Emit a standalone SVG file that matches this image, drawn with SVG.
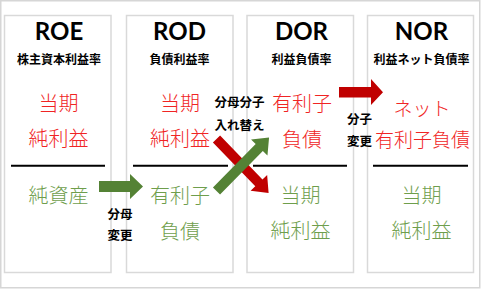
<svg xmlns="http://www.w3.org/2000/svg" width="481" height="289" viewBox="0 0 481 289">
<style>
.frame{fill:#fff;stroke:#d6d6d6;stroke-width:1.5}
.panel{fill:#fff;stroke:#d9d9d9;stroke-width:1.5}
.bar{stroke:#000;stroke-width:2}
.title{font-family:Lato,"Liberation Sans","Noto Sans CJK JP",sans-serif;font-weight:700;font-size:24px;text-anchor:middle;fill:#000}
.sub{font-family:"Noto Sans CJK JP",sans-serif;font-weight:700;font-size:12px;text-anchor:middle;fill:#000}
.num{font-family:"Noto Sans CJK JP",sans-serif;font-weight:300;font-size:20px;text-anchor:middle;fill:#f02424}
.den{font-family:"Noto Sans CJK JP",sans-serif;font-weight:300;font-size:20px;text-anchor:middle;fill:#6e9e4c}
.sm{font-size:19px}
.note{font-family:"Noto Sans CJK JP",sans-serif;font-weight:700;font-size:12.5px;text-anchor:middle;fill:#000}
.ag{fill:#548235}
.ar{fill:#c00000}
</style>
<defs>
<polygon id="diag" points="0,-5 61,-5 61,-11.5 75,0 61,11.5 61,5 0,5"/>
</defs>
<rect class="frame" x="0.75" y="0.75" width="479" height="287"/>
<g id="roe">
<rect class="panel" x="4.5" y="15.5" width="106.5" height="257"/>
<text class="title" x="59" y="40">ROE</text>
<text class="sub" x="59" y="63.5">株主資本利益率</text>
<text class="num" x="58.5" y="111">当期</text>
<text class="num" x="58.5" y="146">純利益</text>
<line class="bar" x1="11" y1="165.7" x2="105" y2="165.7"/>
<text class="den" x="58.5" y="202.5">純資産</text>
</g>
<g id="rod">
<rect class="panel" x="126.5" y="15.5" width="106.5" height="257"/>
<text class="title" x="179.5" y="40">ROD</text>
<text class="sub" x="179.5" y="63.5">負債利益率</text>
<text class="num" x="180" y="111">当期</text>
<text class="num" x="180" y="146">純利益</text>
<line class="bar" x1="133" y1="165.7" x2="228" y2="165.7"/>
<text class="den" x="180" y="202.5">有利子</text>
<text class="den" x="180" y="239">負債</text>
</g>
<g id="dor">
<rect class="panel" x="247" y="15.5" width="106.5" height="257"/>
<text class="title" x="301.5" y="40">DOR</text>
<text class="sub" x="301.5" y="63.5">利益負債率</text>
<text class="num" x="302" y="111">有利子</text>
<text class="num" x="302" y="146.5">負債</text>
<line class="bar" x1="253" y1="165.7" x2="347" y2="165.7"/>
<text class="den" x="300.5" y="202.5">当期</text>
<text class="den" x="300.5" y="238">純利益</text>
</g>
<g id="nor">
<rect class="panel" x="367.5" y="15.5" width="106" height="257"/>
<text class="title" x="421.5" y="40">NOR</text>
<text class="sub" x="421.5" y="63.5">利益ネット負債率</text>
<text class="num sm" x="422" y="116">ネット</text>
<text class="num sm" x="422.5" y="146.5">有利子負債</text>
<line class="bar" x1="373" y1="165.7" x2="468" y2="165.7"/>
<text class="den" x="421.5" y="202.5">当期</text>
<text class="den" x="421.5" y="238">純利益</text>
</g>
<g id="connectors">
<polygon class="ag" points="99,181 130,181 130,174 143,186.5 130,199 130,192 99,192"/>
<polygon class="ar" points="339,87 371,87 371,79 383,92.3 371,105 371,97.5 339,97.5"/>
<use href="#diag" class="ar" transform="translate(216.5,139) rotate(46)"/>
<use href="#diag" class="ag" transform="translate(216.5,191) rotate(-45.5)"/>
<text class="note" x="120" y="219">分母</text>
<text class="note" x="120" y="240">変更</text>
<text class="note" x="239.5" y="106.5">分母分子</text>
<text class="note" x="239.5" y="129.5">入れ替え</text>
<text class="note" x="359.5" y="123.5">分子</text>
<text class="note" x="359.5" y="145.5">変更</text>
</g>
</svg>
